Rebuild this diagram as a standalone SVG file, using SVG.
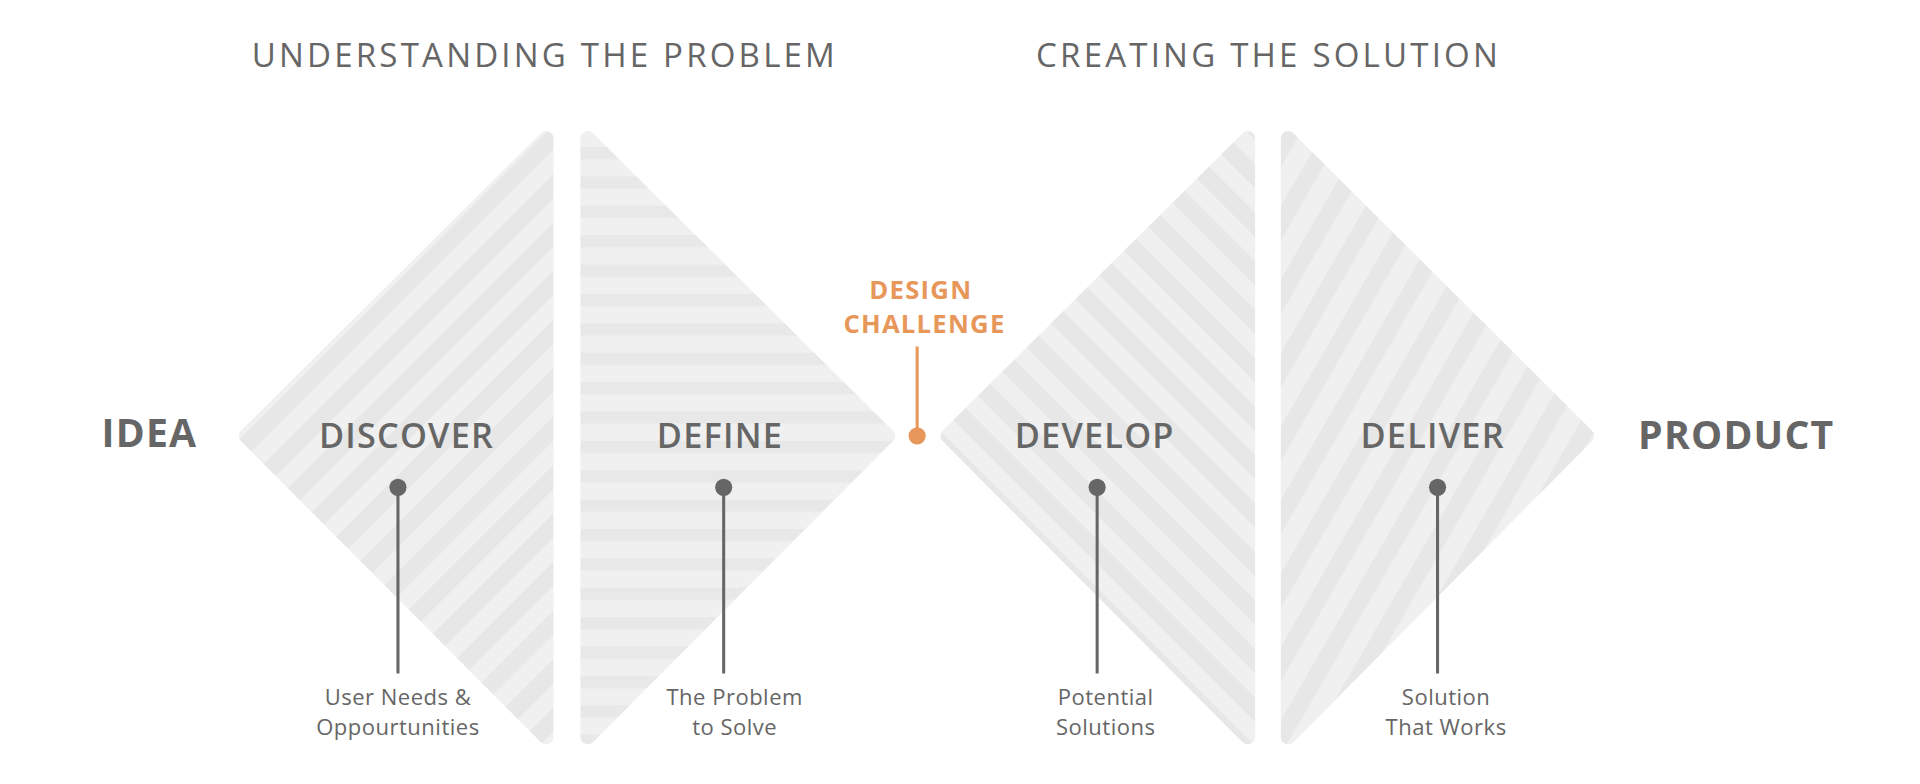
<svg xmlns="http://www.w3.org/2000/svg" width="1920" height="784" viewBox="0 0 1920 784">
<defs>
<style>
.t{font-family:"Open Sans","Liberation Sans",sans-serif;fill:#666;text-anchor:middle}
.h{font-size:27px;font-weight:400;letter-spacing:2.6px}
.b{font-size:32px;font-weight:700;letter-spacing:1px}
.s{font-size:28px;font-weight:600;letter-spacing:1px}
.l{font-size:18px;letter-spacing:0.4px}
.o{font-size:21px;font-weight:700;fill:#e8975a;letter-spacing:1px}
.shape{stroke-linejoin:round;stroke-width:12}
.ln{stroke:#666;stroke-width:2.5}
</style>
<pattern id="p1" width="28" height="28" patternUnits="userSpaceOnUse" patternTransform="rotate(45)"><rect width="28" height="28" fill="#f0f0f0"/><rect width="14" height="28" fill="#e7e7e7"/></pattern>
<pattern id="p2" width="24" height="24" patternUnits="userSpaceOnUse"><rect width="24" height="24" fill="#f0f0f0"/><rect width="24" height="10" fill="#e8e8e8"/></pattern>
<pattern id="p3" width="28" height="28" patternUnits="userSpaceOnUse" patternTransform="rotate(-45)"><rect width="28" height="28" fill="#f0f0f0"/><rect width="14" height="28" fill="#e7e7e7"/></pattern>
<pattern id="p4" width="30" height="30" patternUnits="userSpaceOnUse" patternTransform="rotate(30)"><rect width="30" height="30" fill="#f0f0f0"/><rect width="14" height="30" fill="#e7e7e7"/></pattern>
</defs>
<g transform="scale(1.22449)">
<text class="t h" x="445" y="55">UNDERSTANDING THE PROBLEM</text>
<text class="t h" x="1036" y="55">CREATING THE SOLUTION</text>
<g id="discover"><polygon class="shape" points="201,356 446,113 446,602" fill="url(#p1)" stroke="url(#p1)"/><text class="t s" x="332" y="366">DISCOVER</text></g>
<g id="define"><polygon class="shape" points="480,113 725,356 480,602" fill="url(#p2)" stroke="url(#p2)"/><text class="t s" x="588" y="366">DEFINE</text></g>
<g id="develop"><polygon class="shape" points="774,356 1019,113 1019,602" fill="url(#p3)" stroke="url(#p3)"/><text class="t s" x="894" y="366">DEVELOP</text></g>
<g id="deliver"><polygon class="shape" points="1052,113 1296,356 1052,602" fill="url(#p4)" stroke="url(#p4)"/><text class="t s" x="1170" y="366">DELIVER</text></g>
<g id="idea"><text class="t b" x="122" y="365">IDEA</text></g>
<g id="product"><text class="t b" x="1418" y="367">PRODUCT</text></g>
<g id="connectors">
<line class="ln" x1="325" y1="398" x2="325" y2="550"/><circle cx="325" cy="398" r="7" fill="#666"/>
<line class="ln" x1="591" y1="398" x2="591" y2="550"/><circle cx="591" cy="398" r="7" fill="#666"/>
<line class="ln" x1="896" y1="398" x2="896" y2="550"/><circle cx="896" cy="398" r="7" fill="#666"/>
<line class="ln" x1="1174" y1="398" x2="1174" y2="550"/><circle cx="1174" cy="398" r="7" fill="#666"/>
<line x1="749" y1="283" x2="749" y2="356" stroke="#e8975a" stroke-width="2.5"/><circle cx="749" cy="356" r="7" fill="#e8975a"/>
</g>
<g id="labels">
<text class="t l" x="325" y="576">User Needs &amp;</text><text class="t l" x="325" y="600">Oppourtunities</text>
<text class="t l" x="600" y="576">The Problem</text><text class="t l" x="600" y="600">to Solve</text>
<text class="t l" x="903" y="576">Potential</text><text class="t l" x="903" y="600">Solutions</text>
<text class="t l" x="1181" y="576">Solution</text><text class="t l" x="1181" y="600">That Works</text>
</g>
<g id="challenge"><text class="t o" x="752" y="244">DESIGN</text><text class="t o" x="755" y="272">CHALLENGE</text></g>
</g>
</svg>
